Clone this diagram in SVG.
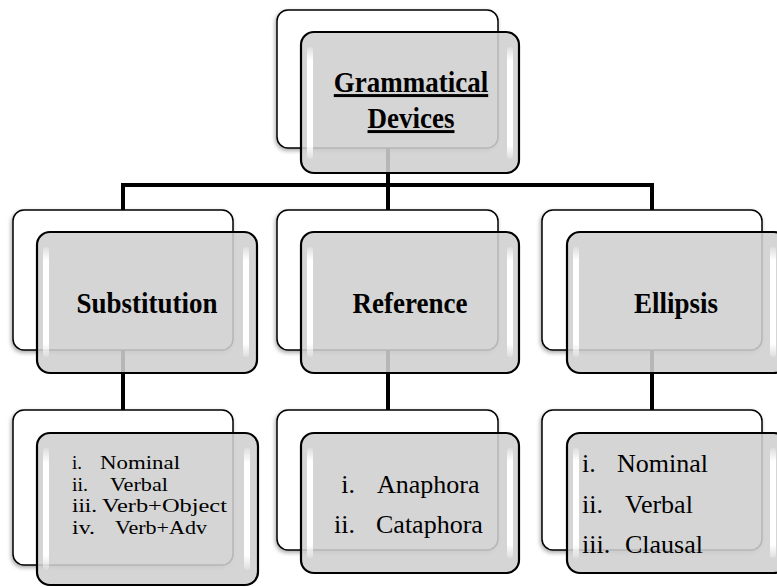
<svg xmlns="http://www.w3.org/2000/svg" width="777" height="587" viewBox="0 0 777 587">
<style>
.back{fill:#ffffff;stroke:#000;stroke-width:1.5}
.front{fill:#cfcfcf;fill-opacity:0.88;stroke:#000;stroke-width:2.2}
.hl{fill:url(#hlg)}
.conn{stroke:#000;stroke-width:4;fill:none}
.hdr{font-family:"Liberation Serif","Times New Roman",serif;font-weight:bold;font-size:27px;fill:#000;text-anchor:middle}
.li{font-family:"Liberation Serif","Times New Roman",serif;fill:#000}
.s{font-size:19.5px}
.m{font-size:26px}
</style>
<defs>
<linearGradient id="hlg" x1="0" y1="0" x2="0" y2="1">
<stop offset="0" stop-color="#fff" stop-opacity="0.2"/>
<stop offset="0.12" stop-color="#fff" stop-opacity="1"/>
<stop offset="0.88" stop-color="#fff" stop-opacity="1"/>
<stop offset="1" stop-color="#fff" stop-opacity="0.2"/>
</linearGradient>
<filter id="sh" x="-10%" y="-10%" width="120%" height="125%">
<feGaussianBlur in="SourceAlpha" stdDeviation="2"/>
<feOffset dx="-1" dy="2"/>
<feComponentTransfer><feFuncA type="linear" slope="0.35"/></feComponentTransfer>
<feMerge><feMergeNode/><feMergeNode in="SourceGraphic"/></feMerge>
</filter>
</defs>
<rect width="777" height="587" fill="#fff"/>
<g id="connectors">
<path class="conn" d="M388,148 V185 M121,185 H654 M123,185 V210 M388,185 V210 M652,185 V210"/>
<path class="conn" d="M123,350 V410 M388,350 V410 M652,350 V410"/>
</g>
<g id="node-grammatical-devices">
<rect class="back" x="277" y="10" width="221" height="138" rx="11" filter="url(#sh)"/>
<rect class="front" x="301" y="32" width="218" height="141" rx="13"/>
<rect class="hl" x="307" y="47" width="6" height="112" rx="3"/>
<rect class="hl" x="507" y="47" width="6" height="112" rx="3"/>
<text class="hdr" transform="translate(411,92) scale(1,1.1)" text-decoration="underline">Grammatical</text>
<text class="hdr" transform="translate(411,128) scale(1,1.1)" text-decoration="underline">Devices</text>
</g>
<g id="node-substitution">
<rect class="back" x="13" y="210" width="220" height="140" rx="11" filter="url(#sh)"/>
<rect class="front" x="37" y="232" width="220" height="141" rx="13"/>
<rect class="hl" x="43" y="247" width="6" height="110" rx="3"/>
<rect class="hl" x="243" y="247" width="6" height="110" rx="3"/>
<text class="hdr" transform="translate(147,313) scale(1,1.1)">Substitution</text>
</g>
<g id="node-reference">
<rect class="back" x="277" y="210" width="221" height="140" rx="11" filter="url(#sh)"/>
<rect class="front" x="301" y="232" width="218" height="141" rx="13"/>
<rect class="hl" x="307" y="247" width="6" height="110" rx="3"/>
<rect class="hl" x="507" y="247" width="6" height="110" rx="3"/>
<text class="hdr" transform="translate(410,313) scale(1,1.1)">Reference</text>
</g>
<g id="node-ellipsis">
<rect class="back" x="542" y="210" width="220" height="140" rx="11" filter="url(#sh)"/>
<rect class="front" x="567" y="232" width="220" height="141" rx="13"/>
<rect class="hl" x="573" y="247" width="6" height="110" rx="3"/>
<rect class="hl" x="770" y="247" width="6" height="110" rx="3"/>
<text class="hdr" transform="translate(676,313) scale(1,1.1)">Ellipsis</text>
</g>
<g id="node-substitution-types">
<rect class="back" x="13" y="410" width="220" height="155" rx="11" filter="url(#sh)"/>
<rect class="front" x="37" y="433" width="221" height="152" rx="13"/>
<rect class="hl" x="43" y="448" width="6" height="122" rx="3"/>
<rect class="hl" x="244" y="448" width="6" height="122" rx="3"/>
<text class="li s" x="72" y="469" textLength="10" lengthAdjust="spacingAndGlyphs">i.</text><text class="li s" x="100" y="469" textLength="80" lengthAdjust="spacingAndGlyphs">Nominal</text>
<text class="li s" x="72" y="490.5" textLength="16" lengthAdjust="spacingAndGlyphs">ii.</text><text class="li s" x="110" y="490.5" textLength="58" lengthAdjust="spacingAndGlyphs">Verbal</text>
<text class="li s" x="72" y="512" textLength="25" lengthAdjust="spacingAndGlyphs">iii.</text><text class="li s" x="102" y="512" textLength="125" lengthAdjust="spacingAndGlyphs">Verb+Object</text>
<text class="li s" x="72" y="533.5" textLength="23" lengthAdjust="spacingAndGlyphs">iv.</text><text class="li s" x="115" y="533.5" textLength="92" lengthAdjust="spacingAndGlyphs">Verb+Adv</text>
</g>
<g id="node-reference-types">
<rect class="back" x="277" y="410" width="221" height="140" rx="11" filter="url(#sh)"/>
<rect class="front" x="301" y="433" width="218" height="140" rx="13"/>
<rect class="hl" x="307" y="448" width="6" height="110" rx="3"/>
<rect class="hl" x="507" y="448" width="6" height="110" rx="3"/>
<text class="li m" x="355" y="493" text-anchor="end">i.</text><text class="li m" x="377" y="493">Anaphora</text>
<text class="li m" x="355" y="533" text-anchor="end">ii.</text><text class="li m" x="376" y="533">Cataphora</text>
</g>
<g id="node-ellipsis-types">
<rect class="back" x="542" y="410" width="220" height="140" rx="11" filter="url(#sh)"/>
<rect class="front" x="567" y="433" width="220" height="140" rx="13"/>
<rect class="hl" x="573" y="448" width="6" height="110" rx="3"/>
<rect class="hl" x="770" y="448" width="6" height="110" rx="3"/>
<text class="li m" x="582" y="472">i.</text><text class="li m" x="617" y="472">Nominal</text>
<text class="li m" x="582" y="513">ii.</text><text class="li m" x="625" y="513">Verbal</text>
<text class="li m" x="582" y="553">iii.</text><text class="li m" x="625" y="553">Clausal</text>
</g>
</svg>
